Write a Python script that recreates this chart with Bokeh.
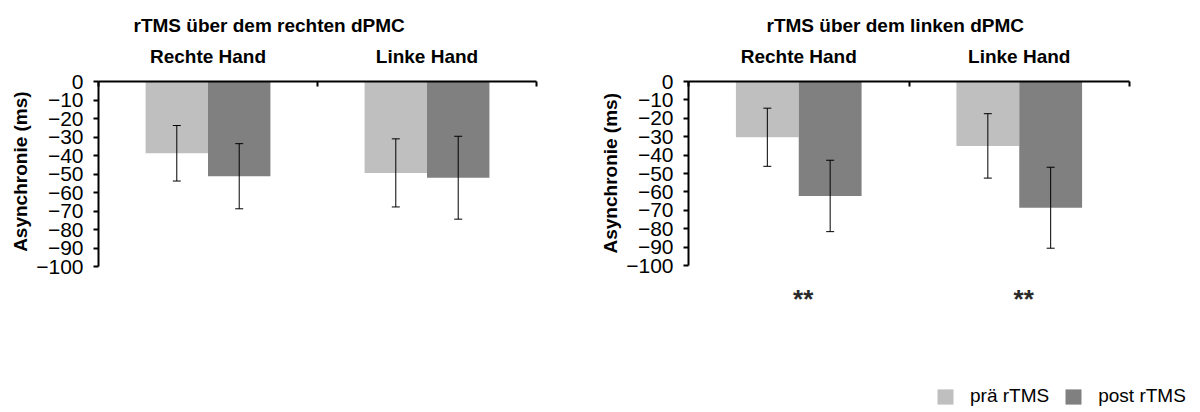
from bokeh.plotting import figure
from bokeh.models import (Range1d, FixedTicker, Whisker, ColumnDataSource,
                          Legend, LegendItem, TeeHead, Title)
from bokeh.layouts import row
from bokeh.embed import file_html
from bokeh.resources import INLINE
from bokeh.core.properties import value

# ---- data -------------------------------------------------------------
hands = ["Rechte Hand", "Linke Hand"]
conditions = ["prä rTMS", "post rTMS"]
y_ticks = list(range(-100, 1, 10))
y_label = "Asynchronie (ms)"

# rTMS über dem rechten dPMC (mean asynchrony and error, ms)
rechts_pre_mean = [-38.8, -49.4]
rechts_pre_err = [15.0, 18.4]
rechts_post_mean = [-51.2, -52.0]
rechts_post_err = [17.6, 22.4]
rechts_sig = ["", ""]

# rTMS über dem linken dPMC
links_pre_mean = [-30.3, -35.0]
links_pre_err = [15.8, 17.5]
links_post_mean = [-62.2, -68.6]
links_post_err = [19.4, 22.0]
links_sig = ["**", "**"]

# ---- styling ----------------------------------------------------------
FONT = "Liberation Sans"
PRE_COLOR = "#bfbfbf"
POST_COLOR = "#808080"
BAR_W = 0.285
H = 412
SIG_Y = -118


def make_panel(title, pre_m, pre_e, post_m, post_e, sig, width, top,
               px_per_x, px_per_y, title_offset, legend=False):
    left_border = 98
    frame_w = width - left_border
    x_end = frame_w / px_per_x
    y_start = -(H - top) / px_per_y

    p = figure(width=width, height=H, output_backend="svg",
               toolbar_location=None, x_axis_location="above",
               x_range=Range1d(0, x_end), y_range=Range1d(y_start, 0),
               min_border_left=left_border, min_border_right=0,
               min_border_top=top, min_border_bottom=0,
               title=title)
    p.outline_line_color = None
    p.background_fill_color = None
    p.border_fill_color = "white"
    p.xgrid.visible = False
    p.ygrid.visible = False

    p.title.text_font = FONT
    p.title.text_font_size = "19px"
    p.title.text_font_style = "bold"
    p.title.text_color = "black"
    p.title.align = "left"
    p.title.offset = title_offset
    p.title.standoff = 14

    centers = [i + 0.5 for i in range(len(hands))]
    x_pre = [c - BAR_W / 2 for c in centers]
    x_post = [c + BAR_W / 2 for c in centers]

    src_pre = ColumnDataSource(dict(
        x=x_pre, top=pre_m,
        lo=[m - e for m, e in zip(pre_m, pre_e)],
        hi=[m + e for m, e in zip(pre_m, pre_e)]))
    src_post = ColumnDataSource(dict(
        x=x_post, top=post_m,
        lo=[m - e for m, e in zip(post_m, post_e)],
        hi=[m + e for m, e in zip(post_m, post_e)]))

    r_pre = p.vbar(x="x", top="top", bottom=0, width=BAR_W, source=src_pre,
                   fill_color=PRE_COLOR, line_color=None)
    r_post = p.vbar(x="x", top="top", bottom=0, width=BAR_W, source=src_post,
                    fill_color=POST_COLOR, line_color=None)

    for src in (src_pre, src_post):
        w = Whisker(base="x", lower="lo", upper="hi", source=src,
                    level="annotation",
                    line_color="black", line_width=1,
                    upper_head=TeeHead(size=8, line_color="black", line_width=1),
                    lower_head=TeeHead(size=8, line_color="black", line_width=1))
        p.add_layout(w)

    # significance markers below the bars
    p.text(x=[c + 0.02 for c in centers], y=[SIG_Y] * len(centers), text=sig,
           text_align="center", text_baseline="middle",
           text_font=value(FONT), text_font_size="26px",
           text_font_style="bold", text_color="#2a2a2a")

    # top category axis with separator ticks between hands
    xa = p.xaxis[0]
    xa.ticker = FixedTicker(ticks=centers, minor_ticks=[0, 1, 2])
    xa.major_label_overrides = {c: h for c, h in zip(centers, hands)}
    xa.bounds = (0, 2)
    xa.axis_line_width = 2
    xa.axis_line_color = "black"
    xa.major_tick_line_color = None
    xa.major_tick_in = 0
    xa.major_tick_out = 0
    xa.minor_tick_in = 5
    xa.minor_tick_out = 0
    xa.minor_tick_line_width = 2
    xa.minor_tick_line_color = "black"
    xa.major_label_text_font = FONT
    xa.major_label_text_font_size = "19px"
    xa.major_label_text_font_style = "bold"
    xa.major_label_text_color = "black"
    xa.major_label_standoff = 15

    ya = p.yaxis[0]
    ya.ticker = FixedTicker(ticks=y_ticks)
    ya.bounds = (-100, 0)
    ya.axis_line_width = 2
    ya.axis_line_color = "black"
    ya.major_tick_in = 0
    ya.major_tick_out = 5
    ya.major_tick_line_width = 2
    ya.major_tick_line_color = "black"
    ya.minor_tick_line_color = None
    ya.major_label_text_font = FONT
    ya.major_label_text_font_size = "21px"
    ya.major_label_text_color = "black"
    ya.major_label_standoff = 10

    # y-axis caption, centred on the -100..0 span of the axis
    span_mid_from_bottom = (H - top) - 50 * px_per_y
    caption_len = 160
    p.add_layout(Title(text=y_label, align="left",
                       offset=span_mid_from_bottom - caption_len / 2,
                       text_font=FONT, text_font_size="19px",
                       text_font_style="bold", text_color="black",
                       standoff=6), "left")

    if legend:
        lg = Legend(items=[LegendItem(label=conditions[0], renderers=[r_pre]),
                           LegendItem(label=conditions[1], renderers=[r_post])],
                    orientation="horizontal", location=(247, 5),
                    glyph_width=20, glyph_height=19, label_standoff=15,
                    spacing=14, padding=0, margin=0,
                    border_line_color=None, background_fill_color=None,
                    label_text_font=FONT, label_text_font_size="19px",
                    label_text_color="black")
        p.add_layout(lg)
    return p


p1 = make_panel("rTMS  über dem rechten dPMC", rechts_pre_mean, rechts_pre_err,
                rechts_post_mean, rechts_post_err, rechts_sig,
                width=590, top=78, px_per_x=219.0, px_per_y=1.867,
                title_offset=35)
p2 = make_panel("rTMS über dem linken dPMC", links_pre_mean, links_pre_err,
                links_post_mean, links_post_err, links_sig,
                width=610, top=81, px_per_x=220.5, px_per_y=1.84,
                title_offset=78, legend=True)

layout = row(p1, p2)
open("out.html", "w").write(file_html(layout, INLINE))
